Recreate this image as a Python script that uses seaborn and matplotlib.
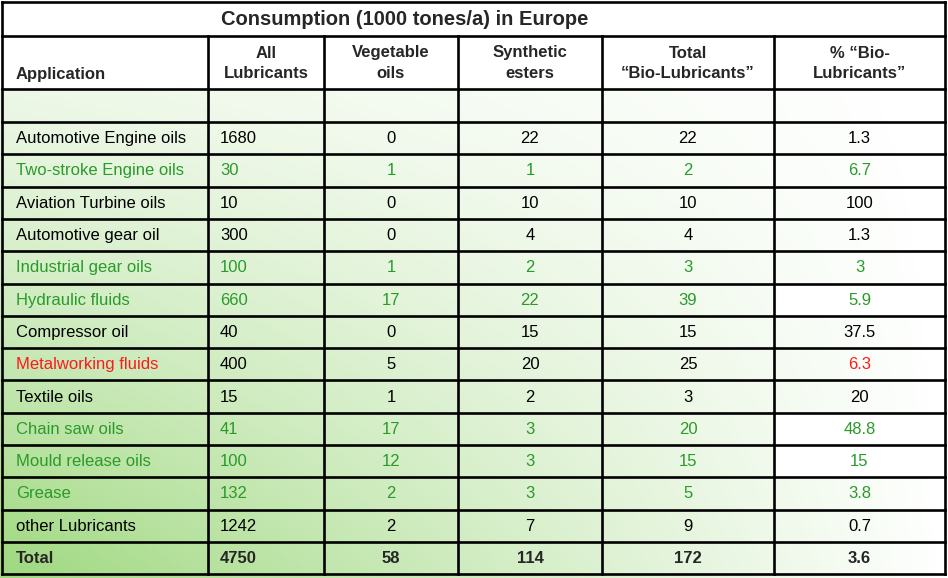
import matplotlib
matplotlib.use("Agg")
import matplotlib.pyplot as plt
from matplotlib.colors import LinearSegmentedColormap
import numpy as np
import seaborn as sns

# table content
title = "Consumption (1000 tones/a) in Europe"
headers = ["Application", "All\nLubricants", "Vegetable\noils", "Synthetic\nesters",
           "Total\n\u201cBio-Lubricants\u201d", "% \u201cBio-\nLubricants\u201d"]
applications = ["Automotive Engine oils", "Two-stroke Engine oils", "Aviation Turbine oils",
                "Automotive gear oil", "Industrial gear oils", "Hydraulic fluids",
                "Compressor oil", "Metalworking fluids", "Textile oils", "Chain saw oils",
                "Mould release oils", "Grease", "other Lubricants"]
all_lubricants = [1680, 30, 10, 300, 100, 660, 40, 400, 15, 41, 100, 132, 1242]
vegetable_oils = [0, 1, 0, 0, 1, 17, 0, 5, 1, 17, 12, 2, 2]
synthetic_esters = [22, 1, 10, 4, 2, 22, 15, 20, 2, 3, 3, 3, 7]
total_bio = [22, 2, 10, 4, 3, 39, 15, 25, 3, 20, 15, 5, 9]
pct_bio = [1.3, 6.7, 100, 1.3, 3, 5.9, 37.5, 6.3, 20, 48.8, 15, 3.8, 0.7]
# "bio" rows are written in green, "warn" has a red label and percentage
row_mark = ["", "bio", "", "", "bio", "bio", "", "warn", "", "bio", "bio", "bio", ""]
white_pct_rows = [5, 9, 10]
totals = ["Total", 4750, 58, 114, 172, 3.6]

GREEN = "#2a9a2a"
RED = "#ff1a1a"

sns.set_theme(style="white")
plt.rcParams["font.family"] = ["Liberation Sans", "DejaVu Sans"]

W, H = 948, 578
fig = plt.figure(figsize=(W / 100, H / 100), dpi=100)

# background gradient (light green, darker toward the bottom left)
ax_bg = fig.add_axes([0, 0, 1, 1])
step = 4
xs = np.arange(0, W, step) + step / 2
ys = np.arange(0, H, step) + step / 2
gx, gy = np.meshgrid(xs, ys)
ty = np.clip((gy - 89) / 486, 0, 1)
grad = (1 - gx / 950) * (0.2 + 0.8 * ty ** 1.15)
grad = np.clip(grad, 0, 1)
grad[gy < 89] = 0
cmap = LinearSegmentedColormap.from_list("bg", ["#ffffff", "#9fd880"])
sns.heatmap(grad, cmap=cmap, vmin=0, vmax=1, cbar=False, ax=ax_bg,
            xticklabels=False, yticklabels=False, linewidths=0, rasterized=True)
ax_bg.axis("off")

ax = fig.add_axes([0, 0, 1, 1])
ax.set_facecolor("none")
ax.set_xlim(0, W)
ax.set_ylim(H, 0)
ax.axis("off")

col_x = [2, 208, 324, 458, 602, 774, 945]
row_h = 32.3
y_title_bot, y_head_bot, y_empty_bot = 36, 89, 122
n = len(applications)
row_y = [y_empty_bot + row_h * k for k in range(n + 2)]
top, bottom = 2, row_y[-1]

# white cells at the top and in a few % cells
ax.fill_between([col_x[0], col_x[-1]], top, y_head_bot, color="white", zorder=1)
for r in white_pct_rows:
    ax.fill_between([col_x[5], col_x[6]], row_y[r], row_y[r + 1], color="white", zorder=1)

lw = 1.9
for y in [top, y_title_bot, y_head_bot] + row_y:
    ax.plot([col_x[0], col_x[-1]], [y, y], color="black", lw=lw, zorder=3,
            solid_capstyle="projecting")
for i, x in enumerate(col_x):
    y0 = top if i in (0, len(col_x) - 1) else y_title_bot
    ax.plot([x, x], [y0, bottom], color="black", lw=lw, zorder=3,
            solid_capstyle="projecting")

fs = 12
ax.text(405, 19.5, title, ha="center", va="center", fontsize=14.5, fontweight="bold", zorder=4)

head_y = 63.5
ax.text(16, 74, headers[0], ha="left", va="center", fontsize=fs, fontweight="bold", zorder=4)
for i, h in enumerate(headers[1:], start=1):
    ax.text((col_x[i] + col_x[i + 1]) / 2, head_y, h, ha="center", va="center",
            fontsize=fs, fontweight="bold", linespacing=1.5, multialignment="center", zorder=4)


def fmt(v):
    return f"{v:g}" if isinstance(v, float) else str(v)


for r in range(n):
    yc = (row_y[r] + row_y[r + 1]) / 2 + 0.5
    mark = row_mark[r]
    base = GREEN if mark == "bio" else "black"
    label_c = RED if mark == "warn" else base
    pct_c = RED if mark == "warn" else base
    ax.text(16, yc, applications[r], ha="left", va="center", fontsize=fs, color=label_c, zorder=4)
    ax.text(220, yc, str(all_lubricants[r]), ha="left", va="center", fontsize=fs, color=base, zorder=4)
    vals = [vegetable_oils[r], synthetic_esters[r], total_bio[r]]
    for j, v in enumerate(vals, start=2):
        ax.text((col_x[j] + col_x[j + 1]) / 2, yc, str(v), ha="center", va="center",
                fontsize=fs, color=base, zorder=4)
    ax.text((col_x[5] + col_x[6]) / 2, yc, fmt(pct_bio[r]), ha="center", va="center",
            fontsize=fs, color=pct_c, zorder=4)

yc = (row_y[n] + row_y[n + 1]) / 2 + 0.5
ax.text(16, yc, totals[0], ha="left", va="center", fontsize=fs, fontweight="bold", zorder=4)
ax.text(220, yc, str(totals[1]), ha="left", va="center", fontsize=fs, fontweight="bold", zorder=4)
for j, v in enumerate(totals[2:], start=2):
    ax.text((col_x[j] + col_x[j + 1]) / 2, yc, fmt(v), ha="center", va="center",
            fontsize=fs, fontweight="bold", zorder=4)

fig.savefig("out.png", dpi=100)
